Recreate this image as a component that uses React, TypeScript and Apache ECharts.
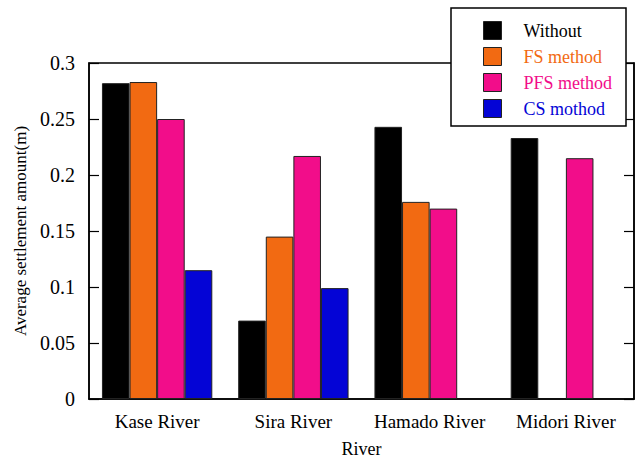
import React, { useEffect, useRef } from "react";
import * as echarts from "echarts";

const rivers = ["Kase River", "Sira River", "Hamado River", "Midori River"];
const seriesNames = ["Without", "FS method", "PFS method", "CS mothod"];
const withoutValues = [0.282, 0.07, 0.243, 0.233];
const fsValues = [0.283, 0.145, 0.176, null];
const pfsValues = [0.25, 0.217, 0.17, 0.215];
const csValues = [0.115, 0.099, null, null];
const colors = ["#000000", "#F26A12", "#F20D8A", "#0404D6"];
const yTicks = [0, 0.05, 0.1, 0.15, 0.2, 0.25, 0.3];

const FONT = "Liberation Serif";

export default function App() {
  const ref = useRef<HTMLDivElement>(null);
  useEffect(() => {
    if (!ref.current) return;
    const chart = echarts.init(ref.current, null, { renderer: "svg" });
    const values = [withoutValues, fsValues, pfsValues, csValues];
    const fmt = (v: number) => {
      const t = yTicks.find((x) => Math.abs(x - v) < 1e-9);
      return t === undefined ? "" : String(t);
    };
    chart.setOption({
      animation: false,
      backgroundColor: "#fff",
      textStyle: { fontFamily: FONT },
      grid: {
        left: 89,
        right: 6,
        top: 63,
        bottom: 59,
        show: true,
        borderColor: "#000",
        borderWidth: 1.5,
        backgroundColor: "transparent",
      },
      graphic: [
        {
          type: "rect",
          z: 3,
          shape: { x: 451, y: 8, width: 175, height: 118 },
          style: { fill: "#fff", stroke: "#000", lineWidth: 1.5 },
        },
      ],
      legend: {
        orient: "vertical",
        left: 451,
        top: 8,
        padding: [13, 10, 10, 32],
        itemWidth: 18,
        itemHeight: 18,
        itemGap: 7,
        icon: "rect",
        z: 5,
        data: seriesNames.map((n, i) => ({
          name: n,
          textStyle: { color: colors[i] },
        })),
        textStyle: {
          fontFamily: FONT,
          fontSize: 18,
          padding: [0, 0, 0, 17],
        },
        itemStyle: { borderColor: "#222", borderWidth: 1 },
      },
      xAxis: {
        type: "category",
        data: rivers,
        name: "River",
        nameLocation: "middle",
        nameGap: 41,
        nameTextStyle: { color: "#000", fontSize: 18, fontFamily: FONT },
        axisLine: { lineStyle: { color: "#000", width: 1.5 } },
        axisTick: { show: false },
        axisLabel: { color: "#000", fontSize: 19, margin: 13, fontFamily: FONT, interval: 0 },
      },
      yAxis: [
        {
          type: "value",
          min: 0,
          max: 0.3,
          interval: 0.05,
          name: "Average settlement amount(m)",
          nameLocation: "middle",
          nameGap: 58,
          nameTextStyle: { color: "#000", fontSize: 17, fontFamily: FONT },
          axisLine: { show: true, lineStyle: { color: "#000", width: 1.5 } },
          axisTick: { show: true, inside: true, length: 10, lineStyle: { color: "#000", width: 1.2 } },
          axisLabel: { color: "#000", fontSize: 20, margin: 14, fontFamily: FONT, formatter: fmt },
          splitLine: { show: false },
        },
        {
          type: "value",
          position: "right",
          min: 0,
          max: 0.3,
          interval: 0.05,
          axisLine: { show: true, lineStyle: { color: "#000", width: 1.5 } },
          axisTick: { show: true, inside: true, length: 10, lineStyle: { color: "#000", width: 1.2 } },
          axisLabel: { show: false },
          splitLine: { show: false },
        },
      ],
      series: seriesNames.map((n, i) => ({
        name: n,
        type: "bar",
        data: values[i],
        barGap: "0%",
        barCategoryGap: "19%",
        itemStyle: { color: colors[i], borderColor: "#222", borderWidth: 1 },
      })),
    });
    return () => chart.dispose();
  }, []);
  return (
    <div
      ref={ref}
      style={{ position: "absolute", left: 0, top: 0, width: 640, height: 463 }}
    />
  );
}
